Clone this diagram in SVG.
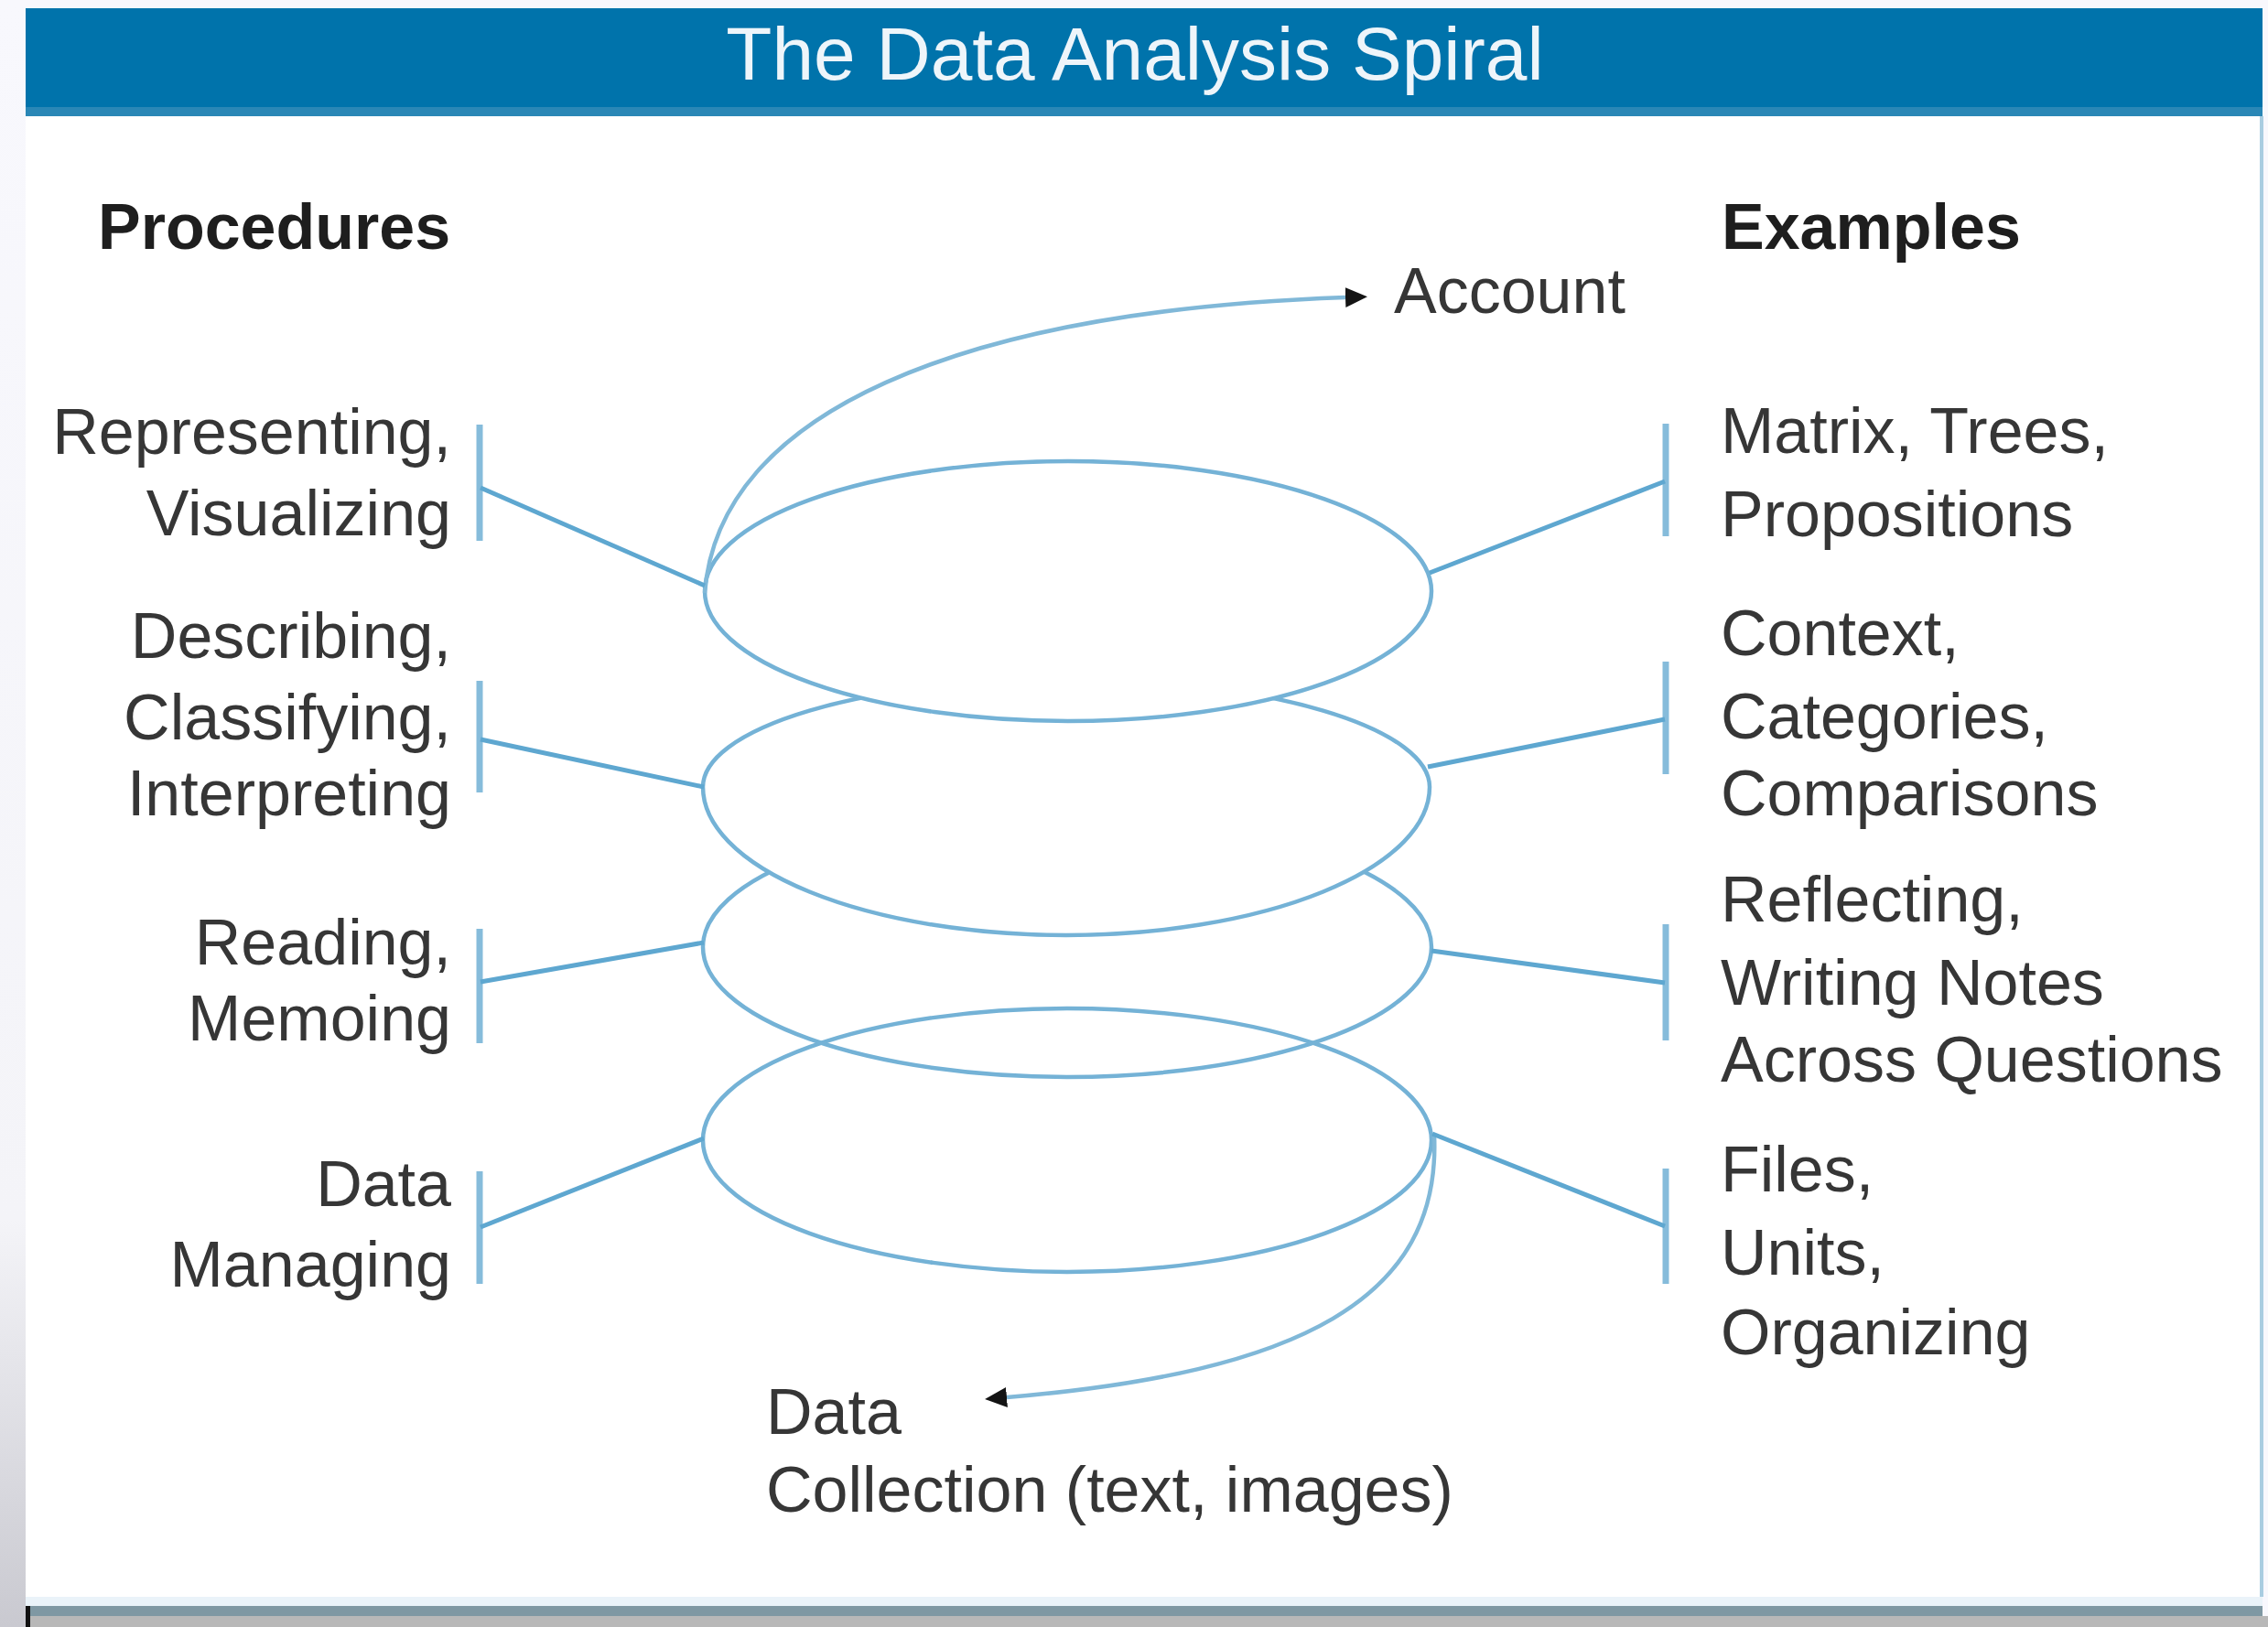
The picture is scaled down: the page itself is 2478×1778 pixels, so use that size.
<svg xmlns="http://www.w3.org/2000/svg" width="2478" height="1778" viewBox="0 0 2478 1778">
<defs>
<style>
.lbl{font-family:"Liberation Sans",Arial,sans-serif;font-size:70px;fill:#363636}
.hd{font-family:"Liberation Sans",Arial,sans-serif;font-size:70px;font-weight:bold;fill:#1e1e1e}
.ttl{font-family:"Liberation Sans",Arial,sans-serif;font-size:82px;fill:#eef5fa}
.loop{stroke:#74b2d6;stroke-width:4.5}
.conn{fill:none;stroke:#5ea7d0;stroke-width:5}
.brk{fill:none;stroke:#86bcdb;stroke-width:7}
.arc{fill:none;stroke:#80b8d8;stroke-width:4.5}
</style>
<linearGradient id="lg" x1="0" y1="0" x2="0" y2="1">
<stop offset="0" stop-color="#f8f8fd"/>
<stop offset="0.75" stop-color="#f4f4f8"/>
<stop offset="1" stop-color="#c9c9d0"/>
</linearGradient>
<marker id="ah" markerUnits="userSpaceOnUse" markerWidth="26" markerHeight="24" refX="0" refY="11" orient="auto">
<path d="M0,0 L24,11 L0,22 Z" fill="#141414"/>
</marker>
</defs>
<rect x="0" y="0" width="2478" height="1778" fill="#f8f8fd"/>
<rect x="0" y="0" width="28" height="1778" fill="url(#lg)"/>
<rect x="28" y="127" width="2444" height="1618" fill="#ffffff"/>
<g id="header">
<rect x="28" y="9" width="2444" height="108" fill="#0073ab"/>
<rect x="28" y="117" width="2444" height="10" fill="#2a87b6"/>
<text class="ttl" x="1240" y="87" text-anchor="middle">The Data Analysis Spiral</text>
</g>
<rect x="2469" y="127" width="4" height="1618" fill="#a9cde1"/>
<rect x="28" y="1745" width="2444" height="10" fill="#eaf3f9"/>
<rect x="28" y="1755" width="2444" height="11" fill="#7f98a3"/>
<rect x="28" y="1766" width="2450" height="12" fill="#b8b8b8"/>
<rect x="28" y="1755" width="5" height="23" fill="#111"/>

<g id="spiral">
<ellipse class="loop" cx="1166" cy="1246" rx="398" ry="144" fill="none"/>
<ellipse class="loop" cx="1166" cy="1035" rx="398" ry="142" fill="none"/>
<path class="loop" fill="#ffffff" d="M 768 860 A 397 118 0 0 1 1562 860 A 397 162 0 0 1 768 860 Z"/>
<ellipse class="loop" cx="1167" cy="646" rx="397" ry="142" fill="#ffffff"/>
<path class="arc" d="M 770 648 C 785 450, 1050 340, 1470 325" marker-end="url(#ah)"/>
<path class="arc" d="M 1567 1240 C 1575 1420, 1420 1500, 1100 1527" marker-end="url(#ah)"/>
</g>

<g id="heading-procedures"><text class="hd" x="107" y="272">Procedures</text></g>
<g id="heading-examples"><text class="hd" x="1881" y="272">Examples</text></g>

<g id="account"><text class="lbl" x="1523" y="342">Account</text></g>
<g id="data-collection">
<text class="lbl" x="837" y="1567">Data</text>
<text class="lbl" x="837" y="1652">Collection (text, images)</text>
</g>

<g id="proc-representing">
<text class="lbl" x="493" y="496" text-anchor="end">Representing,</text>
<text class="lbl" x="493" y="585" text-anchor="end">Visualizing</text>
<line class="brk" x1="524" y1="464" x2="524" y2="591"/>
</g>
<g id="proc-describing">
<text class="lbl" x="493" y="719" text-anchor="end">Describing,</text>
<text class="lbl" x="493" y="808" text-anchor="end">Classifying,</text>
<text class="lbl" x="493" y="891" text-anchor="end">Interpreting</text>
<line class="brk" x1="524" y1="744" x2="524" y2="866"/>
</g>
<g id="proc-reading">
<text class="lbl" x="493" y="1054" text-anchor="end">Reading,</text>
<text class="lbl" x="493" y="1137" text-anchor="end">Memoing</text>
<line class="brk" x1="524" y1="1015" x2="524" y2="1140"/>
</g>
<g id="proc-managing">
<text class="lbl" x="493" y="1318" text-anchor="end">Data</text>
<text class="lbl" x="493" y="1406" text-anchor="end">Managing</text>
<line class="brk" x1="524" y1="1280" x2="524" y2="1403"/>
</g>

<g id="ex-matrix">
<text class="lbl" x="1880" y="495">Matrix, Trees,</text>
<text class="lbl" x="1880" y="586">Propositions</text>
<line class="brk" x1="1820" y1="463" x2="1820" y2="586"/>
</g>
<g id="ex-context">
<text class="lbl" x="1880" y="716">Context,</text>
<text class="lbl" x="1880" y="807">Categories,</text>
<text class="lbl" x="1880" y="891">Comparisons</text>
<line class="brk" x1="1820" y1="723" x2="1820" y2="846"/>
</g>
<g id="ex-reflecting">
<text class="lbl" x="1880" y="1007">Reflecting,</text>
<text class="lbl" x="1880" y="1098">Writing Notes</text>
<text class="lbl" x="1880" y="1182">Across Questions</text>
<line class="brk" x1="1820" y1="1010" x2="1820" y2="1137"/>
</g>
<g id="ex-files">
<text class="lbl" x="1880" y="1302">Files,</text>
<text class="lbl" x="1880" y="1393">Units,</text>
<text class="lbl" x="1880" y="1480">Organizing</text>
<line class="brk" x1="1820" y1="1277" x2="1820" y2="1403"/>
</g>

<g id="connectors">
<line class="conn" x1="525" y1="533" x2="770" y2="640"/>
<line class="conn" x1="525" y1="808" x2="769" y2="860"/>
<line class="conn" x1="525" y1="1073" x2="769" y2="1030"/>
<line class="conn" x1="525" y1="1341" x2="769" y2="1244"/>
<line class="conn" x1="1819" y1="526" x2="1562" y2="626"/>
<line class="conn" x1="1819" y1="786" x2="1560" y2="838"/>
<line class="conn" x1="1819" y1="1074" x2="1564" y2="1039"/>
<line class="conn" x1="1819" y1="1340" x2="1565" y2="1239"/>
</g>
</svg>
